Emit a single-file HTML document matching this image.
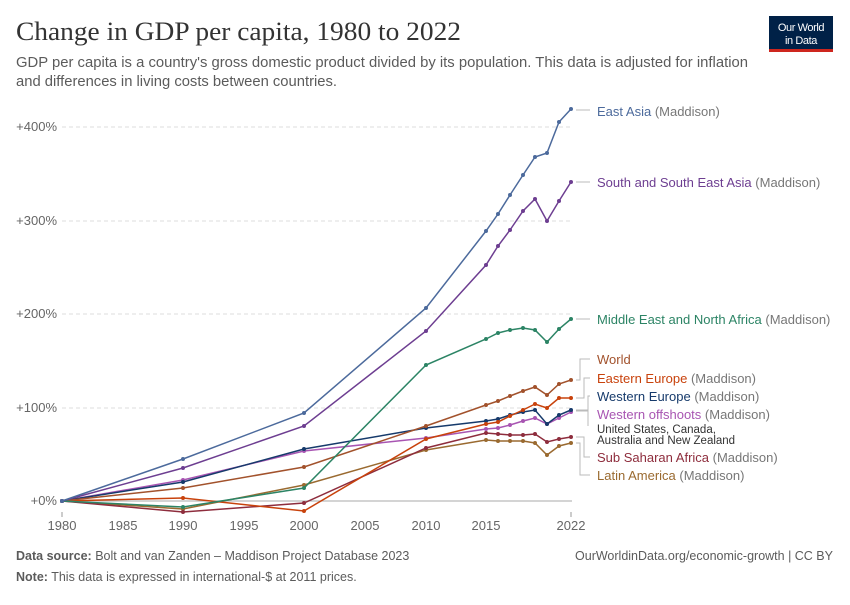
<!DOCTYPE html>
<html><head><meta charset="utf-8"><style>
body{margin:0;background:#fff;width:850px;height:600px;overflow:hidden;font-family:"Liberation Sans",sans-serif}
</style></head><body>
<svg width="850" height="600" xmlns="http://www.w3.org/2000/svg" font-family="Liberation Sans, sans-serif">
<defs>
<marker id="m1" viewBox="0 0 6 6" refX="3" refY="3" markerWidth="4" markerHeight="4" markerUnits="userSpaceOnUse"><circle cx="3" cy="3" r="3" fill="#4c6a9c"/></marker>
<marker id="m2" viewBox="0 0 6 6" refX="3" refY="3" markerWidth="4" markerHeight="4" markerUnits="userSpaceOnUse"><circle cx="3" cy="3" r="3" fill="#6d3e91"/></marker>
<marker id="m3" viewBox="0 0 6 6" refX="3" refY="3" markerWidth="4" markerHeight="4" markerUnits="userSpaceOnUse"><circle cx="3" cy="3" r="3" fill="#2c8465"/></marker>
<marker id="m4" viewBox="0 0 6 6" refX="3" refY="3" markerWidth="4" markerHeight="4" markerUnits="userSpaceOnUse"><circle cx="3" cy="3" r="3" fill="#a2522c"/></marker>
<marker id="m5" viewBox="0 0 6 6" refX="3" refY="3" markerWidth="4" markerHeight="4" markerUnits="userSpaceOnUse"><circle cx="3" cy="3" r="3" fill="#c8420c"/></marker>
<marker id="m6" viewBox="0 0 6 6" refX="3" refY="3" markerWidth="4" markerHeight="4" markerUnits="userSpaceOnUse"><circle cx="3" cy="3" r="3" fill="#163a6b"/></marker>
<marker id="m7" viewBox="0 0 6 6" refX="3" refY="3" markerWidth="4" markerHeight="4" markerUnits="userSpaceOnUse"><circle cx="3" cy="3" r="3" fill="#a855b2"/></marker>
<marker id="m8" viewBox="0 0 6 6" refX="3" refY="3" markerWidth="4" markerHeight="4" markerUnits="userSpaceOnUse"><circle cx="3" cy="3" r="3" fill="#8e2d3d"/></marker>
<marker id="m9" viewBox="0 0 6 6" refX="3" refY="3" markerWidth="4" markerHeight="4" markerUnits="userSpaceOnUse"><circle cx="3" cy="3" r="3" fill="#9a6a30"/></marker>
</defs>
<text x="16" y="40" font-family="Liberation Serif, serif" font-size="26" fill="#333" textLength="445" lengthAdjust="spacingAndGlyphs">Change in GDP per capita, 1980 to 2022</text>
<text x="16" y="67" font-size="14.5" fill="#5b5b5b" textLength="732" lengthAdjust="spacingAndGlyphs">GDP per capita is a country's gross domestic product divided by its population. This data is adjusted for inflation</text>
<text x="16" y="86" font-size="14.5" fill="#5b5b5b" textLength="321" lengthAdjust="spacingAndGlyphs">and differences in living costs between countries.</text>
<rect x="769" y="16" width="64" height="34" fill="#002147"/>
<rect x="769" y="49" width="64" height="3" fill="#ce261e"/>
<text x="801" y="31" font-size="11" fill="#fff" text-anchor="middle" letter-spacing="-0.4">Our World</text>
<text x="801" y="44" font-size="11" fill="#fff" text-anchor="middle" letter-spacing="-0.4">in Data</text>
<g stroke="#ddd" stroke-dasharray="4,3" stroke-width="1">
<line x1="62" y1="127" x2="572" y2="127"/><line x1="62" y1="221" x2="572" y2="221"/><line x1="62" y1="314" x2="572" y2="314"/><line x1="62" y1="408" x2="572" y2="408"/>
</g>
<line x1="62" y1="501" x2="572" y2="501" stroke="#bbb" stroke-width="1.2"/>
<g font-size="13" fill="#666" text-anchor="end">
<text x="57" y="131">+400%</text><text x="57" y="225">+300%</text><text x="57" y="318">+200%</text><text x="57" y="412">+100%</text><text x="57" y="505">+0%</text>
</g>
<g stroke="#999"><line x1="62" y1="512" x2="62" y2="517"/><line x1="571" y1="512" x2="571" y2="517"/></g>
<g font-size="13" fill="#666" text-anchor="middle">
<text x="62" y="530">1980</text><text x="123" y="530">1985</text><text x="183" y="530">1990</text><text x="244" y="530">1995</text><text x="304" y="530">2000</text><text x="365" y="530">2005</text><text x="426" y="530">2010</text><text x="486" y="530">2015</text><text x="571" y="530">2022</text>
</g>
<g fill="none" stroke-width="1.5">
<polyline stroke="#9a6a30" marker-start="url(#m9)" marker-mid="url(#m9)" marker-end="url(#m9)" points="62,501 183,509 304,485 426,450 486,440 498,441 510,441 523,441 535,443 547,455 559,446 571,443"/>
<polyline stroke="#8e2d3d" marker-start="url(#m8)" marker-mid="url(#m8)" marker-end="url(#m8)" points="62,501 183,512 304,503 426,448 486,433 498,434 510,435 523,435 535,434 547,442 559,439 571,437"/>
<polyline stroke="#a855b2" marker-start="url(#m7)" marker-mid="url(#m7)" marker-end="url(#m7)" points="62,501 183,480 304,451 426,438 486,429 498,428 510,425 523,421 535,418 547,424 559,418 571,412"/>
<polyline stroke="#163a6b" marker-start="url(#m6)" marker-mid="url(#m6)" marker-end="url(#m6)" points="62,501 183,482 304,449 426,428 486,421 498,419 510,415 523,412 535,410 547,424 559,415 571,410"/>
<polyline stroke="#c8420c" marker-start="url(#m5)" marker-mid="url(#m5)" marker-end="url(#m5)" points="62,501 183,498 304,511 426,439 486,424 498,422 510,416 523,410 535,404 547,408 559,398 571,398"/>
<polyline stroke="#a2522c" marker-start="url(#m4)" marker-mid="url(#m4)" marker-end="url(#m4)" points="62,501 183,488 304,467 426,426 486,405 498,401 510,396 523,391 535,387 547,395 559,384 571,380"/>
<polyline stroke="#2c8465" marker-start="url(#m3)" marker-mid="url(#m3)" marker-end="url(#m3)" points="62,501 183,507 304,488 426,365 486,339 498,333 510,330 523,328 535,330 547,342 559,329 571,319"/>
<polyline stroke="#6d3e91" marker-start="url(#m2)" marker-mid="url(#m2)" marker-end="url(#m2)" points="62,501 183,468 304,426 426,331 486,265 498,246 510,230 523,211 535,199 547,221 559,201 571,182"/>
<polyline stroke="#4c6a9c" marker-start="url(#m1)" marker-mid="url(#m1)" marker-end="url(#m1)" points="62,501 183,459 304,413 426,308 486,231 498,214 510,195 523,175 535,157 547,153 559,122 571,109"/>
</g>
<g stroke="#bbb" fill="none" stroke-width="1">
<polyline points="576,110 590,110"/>
<polyline points="576,182 590,182"/>
<polyline points="576,319 590,319"/>
<polyline points="576,380 580,380 580,359 590,359"/>
<polyline points="576,398 584,398 584,378 590,378"/>
<polyline points="576,410 588,410 588,396 590,396"/>
<polyline points="576,411 588,411 588,426"/>
<polyline points="576,437 584,437 584,457 590,457"/>
<polyline points="576,443 580,443 580,475 590,475"/>
</g>
<g font-size="13">
<text x="597" y="116" fill="#4c6a9c">East Asia <tspan fill="#777">(Maddison)</tspan></text>
<text x="597" y="187" fill="#6d3e91">South and South East Asia <tspan fill="#777">(Maddison)</tspan></text>
<text x="597" y="324" fill="#2c8465">Middle East and North Africa <tspan fill="#777">(Maddison)</tspan></text>
<text x="597" y="364" fill="#a2522c">World</text>
<text x="597" y="383" fill="#c8420c">Eastern Europe <tspan fill="#777">(Maddison)</tspan></text>
<text x="597" y="401" fill="#163a6b">Western Europe <tspan fill="#777">(Maddison)</tspan></text>
<text x="597" y="419" fill="#a855b2">Western offshoots <tspan fill="#777">(Maddison)</tspan></text>
<text x="597" y="433" fill="#333" font-size="11.5">United States, Canada,</text>
<text x="597" y="444" fill="#333" font-size="11.5">Australia and New Zealand</text>
<text x="597" y="462" fill="#8e2d3d">Sub Saharan Africa <tspan fill="#777">(Maddison)</tspan></text>
<text x="597" y="480" fill="#9a6a30">Latin America <tspan fill="#777">(Maddison)</tspan></text>
</g>
<text x="16" y="560" font-size="12.5" fill="#5b5b5b"><tspan font-weight="bold">Data source:</tspan> Bolt and van Zanden – Maddison Project Database 2023</text>
<text x="833" y="560" font-size="12.5" fill="#5b5b5b" text-anchor="end">OurWorldinData.org/economic-growth | CC BY</text>
<text x="16" y="581" font-size="12.5" fill="#5b5b5b"><tspan font-weight="bold">Note:</tspan> This data is expressed in international-$ at 2011 prices.</text>
</svg>
</body></html>
